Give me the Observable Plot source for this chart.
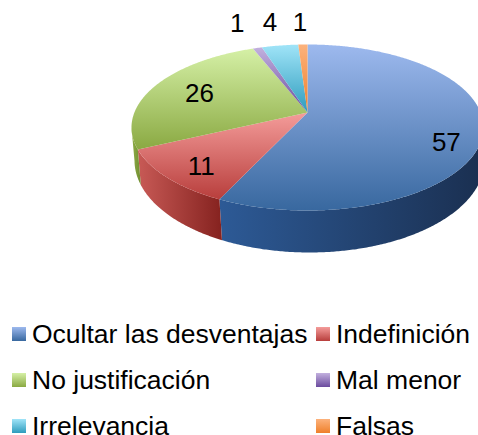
<!DOCTYPE html>
<html><head><meta charset="utf-8">
<script src="https://cdn.jsdelivr.net/npm/d3@7"></script>
<script src="https://cdn.jsdelivr.net/npm/@observablehq/plot@0.6"></script>
<style>
html,body{margin:0;padding:0;background:#fff;overflow:hidden}
body{width:478px;height:435px;font-family:"Liberation Sans",Arial,sans-serif;color:#000}
#legend{display:grid;grid-template-columns:304px auto;row-gap:28px;padding:14px 0 0 12px;font-size:26.5px;line-height:18px}
#legend div{display:flex;align-items:center;white-space:nowrap}
#legend i{display:block;width:14px;height:14px;margin-right:6px;flex:none}
g[aria-label="shadow"]{filter:blur(2px)}
</style></head><body>
<div id="chart"></div><div id="legend"></div>
<script>
const categories=["Ocultar las desventajas","Indefinición","No justificación","Mal menor","Irrelevancia","Falsas"];
const values=[57,11,26,1,4,1];
const topColors=[["#9db9ee","#38689f"],["#f49c9a","#b83e3c"],["#d5f0a6","#8aa942"],["#c2b0de","#6b4b9e"],["#a0e4f8","#2e9cbd"],["#fcb27c","#ef802b"]];
const wallColors=[["#2d5a96","#1a2f50"],["#c85a56","#85221f"],["#90ae48","#6f8c30"],["#5f4488","#4a3270"],["#2a8aa8","#1f6f8a"],["#e07a28","#c06518"]];
const labelOffsets=[[-37,12],[34,-11],[43,9],[-20,-24],[-10,-23],[-3,-22]];

const W=478,H=311,STEP=0.5;
const top3D={cx:307,cy:127,rx:176,ry:83,k:-0.18};
const bottom3D={cx:309,cy:160,rx:175,ry:92};
const total=d3.sum(values);
// perspective map of a unit-disc bearing (clockwise from top) to the ellipse
function disc(deg){
  const a=deg*Math.PI/180,u=Math.sin(a),v=-Math.cos(a),k=top3D.k,s=1+k*v;
  return [u*Math.sqrt(1-k*k)/s,(v+k)/s];
}
const on=(e,[u,v])=>[e.cx+e.rx*u,e.cy+e.ry*v];
const apex=[top3D.cx,top3D.cy+top3D.ry*top3D.k];
let acc=0;
const slices=values.map((v,i)=>{const s={i,a0:acc/total*360,a1:(acc+v)/total*360};acc+=v;return s;});
function sweep(s){const r=[];for(let a=s.a0;a<s.a1;a+=STEP)r.push(a);r.push(s.a1);return r;}
const faces=slices.map(s=>[apex,...sweep(s).map(a=>on(top3D,disc(a)))]);
const walls=slices.map(s=>{
  const d=sweep(s).map(disc).filter(p=>p[1]>=0);
  if(d.length<2)return [];
  return [...d.map(p=>on(top3D,p)),...d.slice().reverse().map(p=>on(bottom3D,p))];
});
const ring=d3.range(0,360.5,2).map(a=>on(bottom3D,disc(a)));
const labels=slices.map((s,i)=>{
  const [x,y]=on(top3D,disc((s.a0+s.a1)/2));
  return {t:String(values[i]),x:x+labelOffsets[i][0],y:y+labelOffsets[i][1]};
});
const gid=(p,i)=>`url(#${p}${i})`;
const defs=()=>{
  const d=d3.create("svg:defs");
  const grad=(id,c,hor)=>{
    const g=d.append("linearGradient").attr("id",id).attr("x1",0).attr("y1",0).attr("x2",hor?1:0).attr("y2",hor?0:1);
    g.append("stop").attr("offset",0).attr("stop-color",c[0]);
    g.append("stop").attr("offset",1).attr("stop-color",c[1]);
  };
  topColors.forEach((c,i)=>grad("t"+i,c,false));
  wallColors.forEach((c,i)=>grad("w"+i,c,true));
  return d.node();
};
const X=p=>p[0],Y=p=>p[1];
const plot=Plot.plot({
  width:W,height:H,margin:0,
  x:{domain:[0,W],range:[0,W],axis:null},
  y:{domain:[0,H],range:[0,H],axis:null},
  marks:[
    defs,
    Plot.line(ring,{x:X,y:Y,fill:"#777",stroke:"#999",strokeWidth:2,strokeOpacity:.5,fillOpacity:.5,ariaLabel:"shadow"}),
    ...walls.map((w,i)=>w.length?Plot.line(w,{x:X,y:Y,fill:gid("w",i),stroke:"none"}):null).filter(Boolean),
    ...faces.map((f,i)=>Plot.line(f,{x:X,y:Y,fill:gid("t",i),stroke:"none"})),
    Plot.text(labels,{x:"x",y:"y",text:"t",fontSize:26,fill:"#000",fontFamily:"Liberation Sans"})
  ]
});
document.getElementById("chart").appendChild(plot);
plot.style.display="block";
const lg=document.getElementById("legend");
categories.forEach((c,i)=>{
  const e=document.createElement("div");
  const s=document.createElement("i");
  s.style.background=`linear-gradient(${topColors[i][0]},${topColors[i][1]})`;
  e.appendChild(s);e.appendChild(document.createTextNode(c));lg.appendChild(e);
});
</script></body></html>
